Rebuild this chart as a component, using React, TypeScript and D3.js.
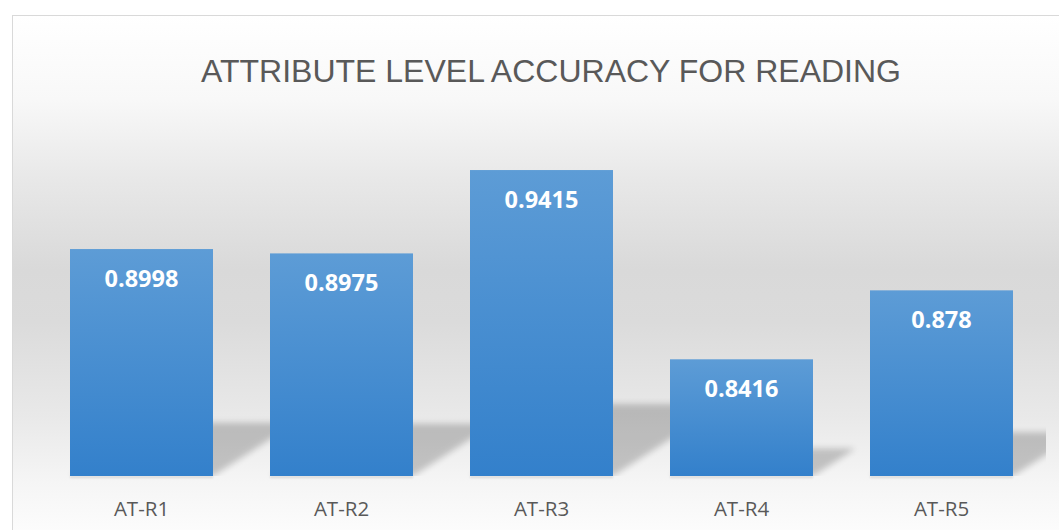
import React from "react";
import * as d3 from "d3";

const categories = ["AT-R1", "AT-R2", "AT-R3", "AT-R4", "AT-R5"];
const accuracy = [0.8998, 0.8975, 0.9415, 0.8416, 0.878];
const valueLabels = ["0.8998", "0.8975", "0.9415", "0.8416", "0.878"];

const W = 1059;
const H = 530;
const plot = { left: 41.5, right: 1041.5, top: 135, bottom: 476 };

const labelFont = "'Open Sans', 'DejaVu Sans', sans-serif";

function App() {
  const x = d3
    .scaleBand<string>()
    .domain(categories)
    .range([plot.left, plot.right])
    .paddingInner(0.285)
    .paddingOuter(0.1425);

  const y = d3
    .scaleLinear()
    .domain([0.78, 0.96])
    .range([plot.bottom, plot.top]);

  // perspective shadow cast up and to the right of each bar
  const shadows = accuracy.map((d, i) => {
    const x0 = x(categories[i]) as number;
    const x1 = x0 + x.bandwidth();
    const h = plot.bottom - y(d);
    const sh = h * 0.235;
    const dx = sh * 1.55;
    const pts = [
      [x0, plot.bottom],
      [x1, plot.bottom],
      [x1 + dx, plot.bottom - sh],
      [x0 + dx, plot.bottom - sh],
    ];
    return (
      <polygon
        key={`shadow${i}`}
        points={pts.map((p) => p.join(",")).join(" ")}
        fill="#000"
        opacity={0.2}
        filter="url(#blur)"
      />
    );
  });

  const bars = accuracy.map((d, i) => (
    <g key={`bar${i}`}>
      <rect
        x={x(categories[i])}
        y={plot.bottom}
        width={x.bandwidth()}
        height={2}
        fill="#000"
        opacity={0.12}
        filter="url(#blurSmall)"
      />
      <rect
        x={x(categories[i])}
        y={y(d)}
        width={x.bandwidth()}
        height={plot.bottom - y(d)}
        fill="url(#barFill)"
      />
    </g>
  ));

  const labels = accuracy.map((d, i) => (
    <text
      key={`val${i}`}
      x={(x(categories[i]) as number) + x.bandwidth() / 2}
      y={y(d) + 38}
      textAnchor="middle"
      fill="#ffffff"
      style={{ fontFamily: labelFont, fontWeight: 700, fontSize: "23.5px" }}
    >
      {valueLabels[i]}
    </text>
  ));

  const ticks = categories.map((c, i) => (
    <text
      key={`cat${i}`}
      x={(x(c) as number) + x.bandwidth() / 2}
      y={516}
      textAnchor="middle"
      fill="#595959"
      style={{ fontFamily: labelFont, fontSize: "20.5px" }}
    >
      {c}
    </text>
  ));

  return (
    <svg
      width={W}
      height={H}
      style={{ position: "absolute", left: 0, top: 0 }}
    >
      <defs>
        <linearGradient id="bgFill" gradientUnits="userSpaceOnUse" x1="0" y1="15" x2="0" y2="545">
          <stop offset="0" stopColor="#ffffff" />
          <stop offset="0.16" stopColor="#f8f8f8" />
          <stop offset="0.31" stopColor="#e8e8e8" />
          <stop offset="0.48" stopColor="#d9d9d9" />
          <stop offset="0.58" stopColor="#dbdbdb" />
          <stop offset="0.76" stopColor="#e9e9e9" />
          <stop offset="0.88" stopColor="#f5f5f5" />
          <stop offset="1" stopColor="#fefefe" />
        </linearGradient>
        <linearGradient id="barFill" x1="0" y1="0" x2="0" y2="1">
          <stop offset="0" stopColor="#5d9cd6" />
          <stop offset="1" stopColor="#3380cb" />
        </linearGradient>
        <filter id="blur" x="-20%" y="-40%" width="140%" height="180%">
          <feGaussianBlur stdDeviation="3" />
        </filter>
        <filter id="blurSmall" x="-5%" y="-200%" width="110%" height="500%">
          <feGaussianBlur stdDeviation="0.8" />
        </filter>
        <clipPath id="plotClip">
          <rect x={0} y={0} width={1046} height={plot.bottom} />
        </clipPath>
      </defs>

      <rect x={0} y={0} width={W} height={H} fill="#ffffff" />
      <rect
        x={12.5}
        y={15.5}
        width={W}
        height={H}
        fill="url(#bgFill)"
        stroke="#d9d9d9"
        strokeWidth={1}
      />

      <text
        x={551}
        y={82}
        textAnchor="middle"
        fill="#595959"
        style={{ fontFamily: "'Liberation Sans', Arial, sans-serif", fontSize: "32px" }}
      >
        ATTRIBUTE LEVEL ACCURACY FOR READING
      </text>

      <g clipPath="url(#plotClip)">{shadows}</g>
      {bars}
      {labels}
      {ticks}
    </svg>
  );
}

export default App;
